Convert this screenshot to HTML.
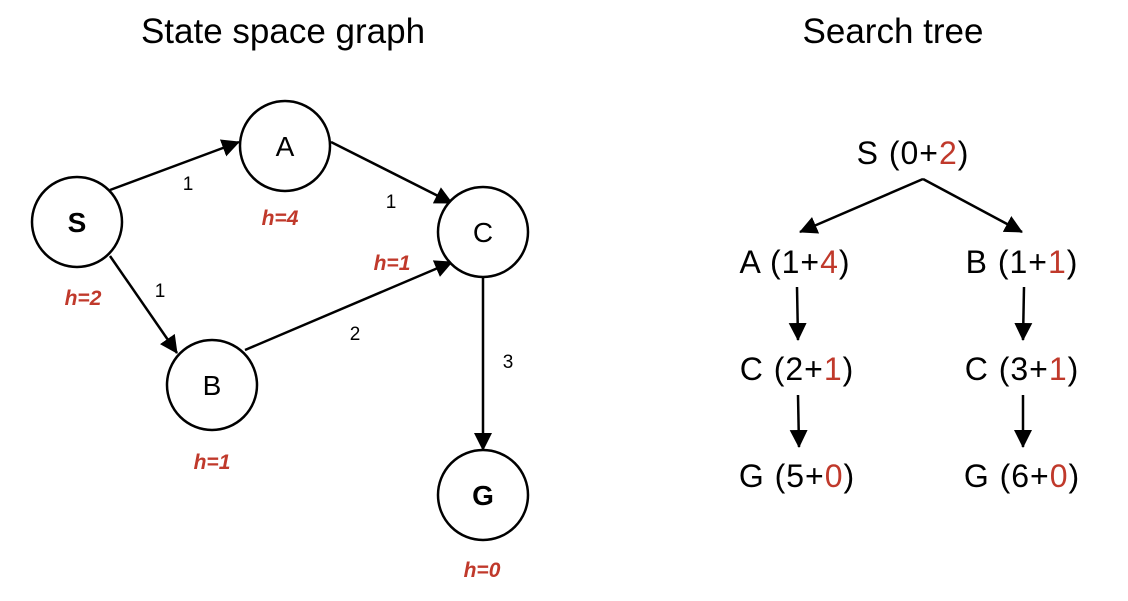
<!DOCTYPE html>
<html><head><style>
body{margin:0;background:#fff;}
svg{display:block;font-family:"Liberation Sans",Arial,sans-serif;}
.t{font-size:32px;text-anchor:middle;letter-spacing:1px}
.r{fill:#c0392b}
.h{font-size:21px;font-weight:bold;font-style:italic;fill:#c0392b;text-anchor:middle}
.e{font-size:19px;text-anchor:middle}
.n{font-size:28px;text-anchor:middle}
</style></head><body>
<svg width="1128" height="601" viewBox="0 0 1128 601">
<defs><marker id="b" markerWidth="18" markerHeight="18" refX="17" refY="9" orient="auto" markerUnits="userSpaceOnUse" viewBox="0 0 18 18"><path d="M0,0 L18,9 L0,18 z" fill="#000"/></marker></defs>
<text x="283" y="43" class="t" style="font-size:35px;letter-spacing:0">State space graph</text>
<text x="893" y="43" class="t" style="font-size:35px;letter-spacing:0">Search tree</text>
<g stroke="#000" stroke-width="2.5" fill="none" marker-end="url(#b)">
<line x1="110" y1="190" x2="239" y2="142"/>
<line x1="331" y1="142" x2="452" y2="203"/>
<line x1="110" y1="256" x2="177" y2="353"/>
<line x1="245" y1="350" x2="452" y2="262"/>
<line x1="483" y1="278" x2="483" y2="450"/>
<line x1="923" y1="179" x2="800" y2="232"/>
<line x1="923" y1="179" x2="1022" y2="232"/>
<line x1="797" y1="287" x2="798" y2="340"/>
<line x1="798" y1="395" x2="799" y2="447"/>
<line x1="1024" y1="287" x2="1023" y2="340"/>
<line x1="1023" y1="395" x2="1023" y2="447"/>
</g>
<g stroke="#000" stroke-width="2.5" fill="#fff">
<circle cx="77" cy="222" r="45"/><circle cx="285" cy="146" r="45"/>
<circle cx="483" cy="232" r="45"/><circle cx="212" cy="385" r="45"/>
<circle cx="483" cy="495" r="45"/></g>
<text x="77" y="232" class="n" style="font-weight:bold">S</text>
<text x="285" y="156" class="n">A</text>
<text x="483" y="242" class="n">C</text>
<text x="212" y="395" class="n">B</text>
<text x="483" y="505" class="n" style="font-weight:bold">G</text>
<text x="83" y="305" class="h">h=2</text>
<text x="280" y="225" class="h">h=4</text>
<text x="392" y="270" class="h">h=1</text>
<text x="212" y="469" class="h">h=1</text>
<text x="482" y="577" class="h">h=0</text>
<text x="188" y="190" class="e">1</text>
<text x="391" y="208" class="e">1</text>
<text x="160" y="297" class="e">1</text>
<text x="355" y="340" class="e">2</text>
<text x="508" y="368" class="e">3</text>
<text x="913" y="164" class="t">S (0+<tspan class="r">2</tspan>)</text>
<text x="795" y="273" class="t">A (1+<tspan class="r">4</tspan>)</text>
<text x="1022" y="273" class="t">B (1+<tspan class="r">1</tspan>)</text>
<text x="797" y="380" class="t">C (2+<tspan class="r">1</tspan>)</text>
<text x="1022" y="380" class="t">C (3+<tspan class="r">1</tspan>)</text>
<text x="797" y="487" class="t">G (5+<tspan class="r">0</tspan>)</text>
<text x="1022" y="487" class="t">G (6+<tspan class="r">0</tspan>)</text>
</svg>
</body></html>
